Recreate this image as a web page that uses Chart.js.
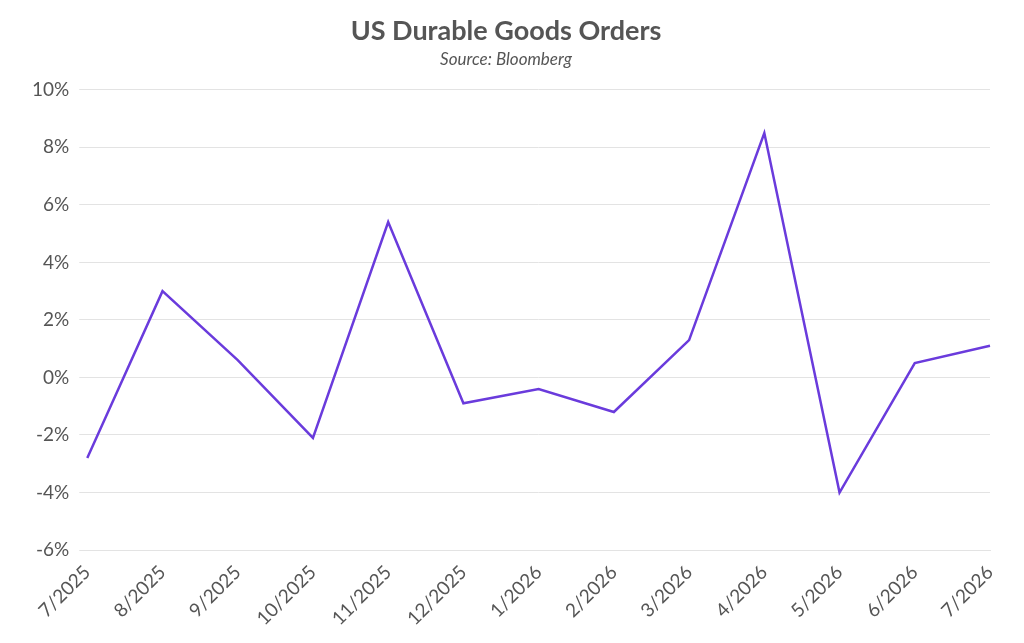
<!DOCTYPE html>
<html><head><meta charset="utf-8">
<script src="https://cdn.jsdelivr.net/npm/chart.js@4"></script>
<style>html,body{margin:0;background:#fff}#wrap{width:1024px;height:643px}</style>
</head><body><div id="wrap"><canvas id="c"></canvas></div>
<script>
const months = ["7/2025","8/2025","9/2025","10/2025","11/2025","12/2025","1/2026","2/2026","3/2026","4/2026","5/2026","6/2026","7/2026"];
const orders = [-2.8, 3.0, 0.6, -2.1, 5.4, -0.9, -0.4, -1.2, 1.3, 8.5, -4.0, 0.5, 1.1];

Chart.defaults.font.family = "Lato, 'Noto Sans', sans-serif";
new Chart(document.getElementById("c"), {
    type: "line",
    data: {
        labels: months,
        datasets: [{
            data: orders,
            borderColor: "#6a3bdc",
            borderWidth: 2.5,
            pointRadius: 0,
            tension: 0
        }]
    },
    options: {
        responsive: true,
        maintainAspectRatio: false,
        animation: false,
        layout: { padding: { left: 22, right: 34, top: 15, bottom: 10 } },
        plugins: {
            legend: { display: false },
            title: { display: true, text: "US Durable Goods Orders", color: "#555", font: { size: 27, weight: "bold" }, padding: { bottom: 2 } },
            subtitle: { display: true, text: "Source: Bloomberg", color: "#555", font: { size: 17, style: "italic" }, padding: { bottom: 20 } }
        },
        scales: {
            x: {
                offset: false,
                grid: { display: false },
                border: { color: "#e3e3e3" },
                ticks: { color: "#555", font: { size: 19 }, maxRotation: 45, minRotation: 45, autoSkip: false }
            },
            y: {
                min: -6, max: 10,
                grid: { color: "#e3e3e3" },
                border: { display: false },
                ticks: { stepSize: 2, color: "#555", font: { size: 19 }, padding: 10, callback: v => v + "%" }
            }
        }
    }
});
</script></body></html>
